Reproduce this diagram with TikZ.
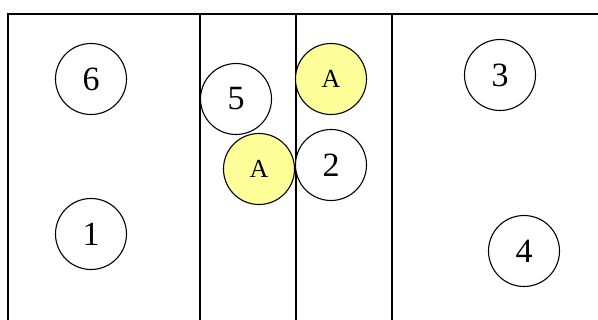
\documentclass[tikz,border=0pt]{standalone}
\usepackage{fontspec}
\setmainfont{Liberation Serif}
\definecolor{tokenyellow}{HTML}{FFFF99}

\begin{document}
\begin{tikzpicture}[x=1pt, y=-1pt, line width=1.1pt]
        \useasboundingbox (0,0) rectangle (598,320);
        % the frame and the lanes
        \draw (8,320) -- (8,14) -- (598,14);
        \foreach \xl in {200,296,392}
            \draw (\xl,14) -- (\xl,320);
        % the numbered places
        \tikzset{place/.style={circle, draw, fill=white, minimum size=71pt, inner sep=0pt, font=\fontsize{34}{34}\selectfont}}
        \foreach \nm/\px/\py in {6/91/79, 1/91/234, 5/236/99, 2/331/165, 3/500/75, 4/524/251}
            \node[place] (p\nm) at (\px,\py) {\raisebox{-3pt}{\nm}};
        % the two A tokens
        \tikzset{token/.style={place, fill=tokenyellow, font=\fontsize{26}{26}\selectfont}}
        \node[token] (aup) at (331,79) {\raisebox{-2pt}{A}};
        \node[token] (alow) at (259,169) {\raisebox{-2pt}{A}};
    \end{tikzpicture}
\end{document}
